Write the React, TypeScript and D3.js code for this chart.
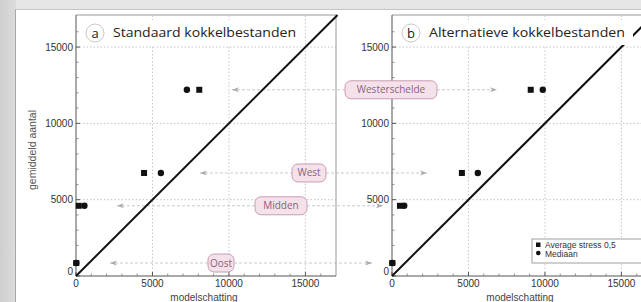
import React from "react";
import * as d3 from "d3";

const regions = ["Westerschelde", "West", "Midden", "Oost"];
const observed = [12200, 6750, 4600, 850];
const avgStressA = [8060, 4450, 180, 20];
const medianA = [7250, 5550, 550, 20];
const avgStressB = [9070, 4570, 520, 20];
const medianB = [9860, 5610, 800, 20];
const majorTicks = [0, 5000, 10000, 15000];
const legendLabels = ["Average stress 0,5", "Mediaan"];
const titles = ["Standaard kokkelbestanden", "Alternatieve kokkelbestanden"];
const panelLetters = ["a", "b"];
const xLabel = "modelschatting";
const yLabel = "gemiddeld aantal";

const W = 641, H = 302;
const DOMAIN = 17000;
const yDomain = 17100;

// layout (pixels)
const labelCx = [391, 309, 281, 221];
const labelW = [92, 34, 52, 26];
const arrowA = [232, 200, 117, 110];
const arrowB = [497, 427, 383, 372];

function Panel({ x0, stress, median, idx }: { x0: number; stress: number[]; median: number[]; idx: number }) {
  const x = d3.scaleLinear().domain([0, DOMAIN]).range([x0, x0 + 260]);
  const y = d3.scaleLinear().domain([0, yDomain]).range([276, 15]);
  const minor = d3.range(1000, DOMAIN, 1000).filter((v) => v % 5000 !== 0);
  const titleW = idx === 0 ? 183 : 196;
  return (
    <g>
      {majorTicks.slice(1).map((t) => (
        <g key={"g" + t}>
          <line x1={x(t)} x2={x(t)} y1={y(0)} y2={y(yDomain)} stroke="#b8b8b8" strokeWidth={0.8} strokeDasharray="1.5,2" />
          <line x1={x(0)} x2={x(DOMAIN)} y1={y(t)} y2={y(t)} stroke="#b8b8b8" strokeWidth={0.8} strokeDasharray="1.5,2" />
        </g>
      ))}
      <line x1={x(0)} x2={x(DOMAIN)} y1={y(yDomain)} y2={y(yDomain)} stroke="#9a9a9a" strokeWidth={1} />
      <line x1={x(DOMAIN)} x2={x(DOMAIN)} y1={y(yDomain)} y2={y(0)} stroke="#9a9a9a" strokeWidth={1} />
      <line x1={x(0)} x2={x(0)} y1={y(yDomain)} y2={y(0)} stroke="#555" strokeWidth={1} />
      <line x1={x(0)} x2={x(DOMAIN)} y1={y(0)} y2={y(0)} stroke="#555" strokeWidth={1} />
      {minor.map((t) => (
        <g key={"m" + t}>
          <line x1={x(t)} x2={x(t)} y1={y(0)} y2={y(0) - 2.5} stroke="#777" strokeWidth={0.8} />
          <line x1={x(0)} x2={x(0) + 2.5} y1={y(t)} y2={y(t)} stroke="#777" strokeWidth={0.8} />
        </g>
      ))}
      {majorTicks.map((t) => (
        <g key={"t" + t} fontFamily="Liberation Sans, Arial, sans-serif" fontSize={10} fill="#333">
          <line x1={x(t)} x2={x(t)} y1={y(0)} y2={y(0) - 4} stroke="#555" />
          <line x1={x(0)} x2={x(0) + 4} y1={y(t)} y2={y(t)} stroke="#555" />
          <text x={x(t)} y={y(0) + 11} textAnchor="middle">{t}</text>
          <text x={x(0) - 3} y={y(t) + (t === 0 ? -1 : 3.5)} textAnchor="end">{t}</text>
        </g>
      ))}
      <text x={x(0) + (x(DOMAIN) - x(0)) / 2 - 2} y={300.5} textAnchor="middle" fontFamily="Liberation Sans, Arial, sans-serif" fontSize={10} fill="#444">{xLabel}</text>
      <line x1={x(0)} y1={y(0)} x2={x(yDomain)} y2={y(yDomain)} stroke="#111" strokeWidth={2} />
      <rect x={x0 + 3} y={20} width={titleW + 42} height={25} fill="#fff" />
      <circle cx={x0 + 19} cy={33} r={9} fill="#fff" stroke="#c8c8c8" strokeWidth={1} />
      <text x={x0 + 19} y={37.5} textAnchor="middle" fontFamily="Open Sans, sans-serif" fontSize={13} fill="#222">{panelLetters[idx]}</text>
      <text x={x0 + 37} y={37} fontFamily="Open Sans, sans-serif" fontSize={12.5} fill="#222" textLength={titleW} lengthAdjust="spacingAndGlyphs">{titles[idx]}</text>
      {regions.map((r, i) => (
        <g key={"p" + r}>
          <rect x={x(stress[i]) - 3} y={y(observed[i]) - 3} width={6} height={6} fill="#111" />
          <circle cx={x(median[i])} cy={y(observed[i])} r={3.2} fill="#111" />
        </g>
      ))}
    </g>
  );
}

function Arrow({ x, y, dir }: { x: number; y: number; dir: number }) {
  const p = `M${x},${y} L${x - dir * 7},${y - 2.5} L${x - dir * 5},${y} L${x - dir * 7},${y + 2.5} Z`;
  return <path d={p} fill="#aaa" />;
}

export default function App() {
  const y = d3.scaleLinear().domain([0, yDomain]).range([276, 15]);
  return (
    <div style={{ position: "absolute", left: 0, top: 0 }}>
      <svg width={W} height={H} style={{ display: "block" }}>
        <defs>
          <linearGradient id="bgl" x1="0" x2="1" y1="0" y2="0">
            <stop offset="0" stopColor="#cfcfcf" />
            <stop offset="1" stopColor="#dcdcdc" />
          </linearGradient>
        </defs>
        <rect x={0} y={0} width={W} height={H} fill="#e6e6e6" />
        <rect x={0} y={0} width={16} height={H} fill="url(#bgl)" />
        <rect x={16} y={9} width={W - 16} height={H - 9} fill="#ffffff" />
        <line x1={15.5} x2={15.5} y1={9} y2={H} stroke="#a8a8a8" />
        <line x1={15.5} x2={W} y1={9.5} y2={9.5} stroke="#c4c4c4" />
        <text transform={`translate(36,150) rotate(-90)`} textAnchor="middle" fontFamily="Liberation Sans, Arial, sans-serif" fontSize={10.5} fill="#555">{yLabel}</text>
        {regions.map((r, i) => {
          const yy = y(observed[i]);
          const l = labelCx[i] - labelW[i] / 2;
          const rr = labelCx[i] + labelW[i] / 2;
          return (
            <g key={"c" + r}>
              <line x1={arrowA[i]} x2={l} y1={yy} y2={yy} stroke="#c4c4c4" strokeWidth={0.9} strokeDasharray="3,2" />
              <line x1={rr} x2={arrowB[i]} y1={yy} y2={yy} stroke="#c4c4c4" strokeWidth={0.9} strokeDasharray="3,2" />
            </g>
          );
        })}
        <Panel x0={76} stress={avgStressA} median={medianA} idx={0} />
        <Panel x0={392} stress={avgStressB} median={medianB} idx={1} />
        {regions.map((r, i) => {
          const yy = y(observed[i]);
          return (
            <g key={"a" + r}>
              <Arrow x={arrowA[i]} y={yy} dir={-1} />
              <Arrow x={arrowB[i]} y={yy} dir={1} />
              <rect x={labelCx[i] - labelW[i] / 2} y={yy - 9} width={labelW[i]} height={18} rx={6} fill="#f4e1ea" stroke="#c99db4" strokeWidth={1} />
              <text x={labelCx[i]} y={yy + 3.5} textAnchor="middle" fontFamily="Open Sans, sans-serif" fontSize={10} fill="#8a6577">{r}</text>
            </g>
          );
        })}
        <g>
          <rect x={532} y={239} width={112} height={24} fill="#fff" stroke="#888" strokeWidth={0.8} />
          <rect x={536} y={242.5} width={4.5} height={4.5} fill="#111" />
          <circle cx={538.3} cy={253} r={2.3} fill="#111" />
          <text x={545} y={248} fontFamily="Liberation Sans, Arial, sans-serif" fontSize={8.5} fill="#333">{legendLabels[0]}</text>
          <text x={545} y={256.5} fontFamily="Liberation Sans, Arial, sans-serif" fontSize={8.5} fill="#333">{legendLabels[1]}</text>
        </g>
      </svg>
    </div>
  );
}
